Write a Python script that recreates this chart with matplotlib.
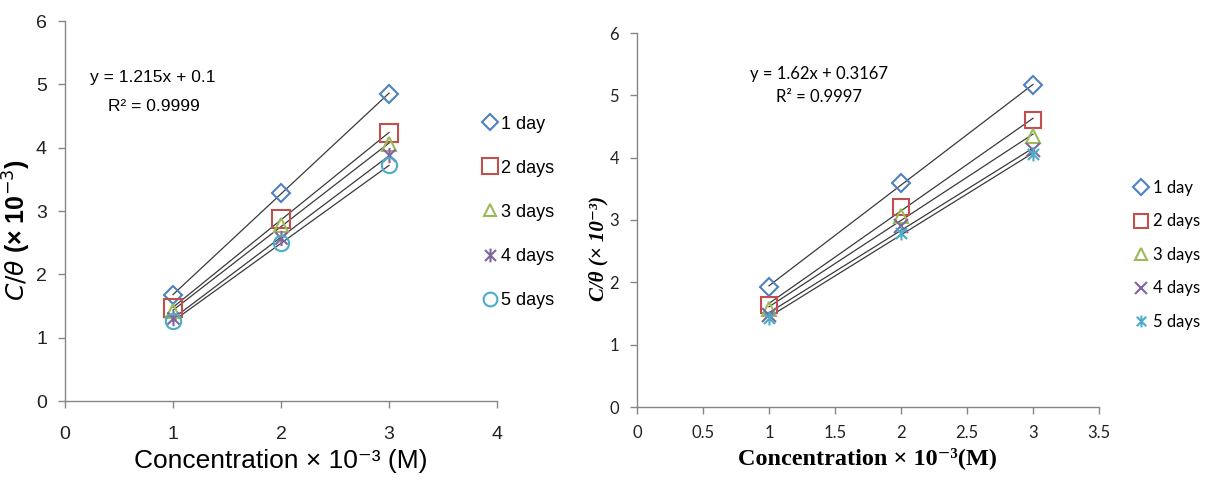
import numpy as np
import matplotlib
matplotlib.use("Agg")
import matplotlib.pyplot as plt
from matplotlib.path import Path

# ---------------- data ----------------
conc = [1, 2, 3]
labels = ["1 day", "2 days", "3 days", "4 days", "5 days"]
colors = ["#4F81BD", "#C0504D", "#9BBB59", "#8064A2", "#4BACC6"]

left_1day = [1.67, 3.29, 4.85]
left_2days = [1.47, 2.88, 4.23]
left_3days = [1.42, 2.78, 4.06]
left_4days = [1.31, 2.57, 3.88]
left_5days = [1.26, 2.49, 3.72]

right_1day = [1.93, 3.59, 5.16]
right_2days = [1.63, 3.21, 4.60]
right_3days = [1.57, 3.07, 4.34]
right_4days = [1.48, 2.90, 4.12]
right_5days = [1.43, 2.79, 4.06]

left_eq = "y = 1.215x + 0.1"
left_r2 = "R² = 0.9999"
right_eq = "y = 1.62x + 0.3167"
right_r2 = "R² = 0.9997"

left_xticks = [0, 1, 2, 3, 4]
right_xticks = [0, 0.5, 1, 1.5, 2, 2.5, 3, 3.5]
yticks = [0, 1, 2, 3, 4, 5, 6]

# ---------------- markers ----------------
star = Path([(-1, -1), (1, 1), (-1, 1), (1, -1), (0, -1.25), (0, 1.25)],
            [Path.MOVETO, Path.LINETO, Path.MOVETO, Path.LINETO, Path.MOVETO, Path.LINETO])
left_markers = ["D", "s", "^", star, "o"]
right_markers = ["D", "s", "^", "x", star]
left_sizes = [9, 13, 10, 11, 11]
right_sizes = [9, 12, 10, 10, 10]

sans = ["Liberation Sans", "DejaVu Sans"]
calib = ["Lato", "DejaVu Sans"]
serif = ["Liberation Serif", "DejaVu Serif"]
grey = "#868686"

fig = plt.figure(figsize=(12.11, 4.91), dpi=100)
axL = fig.add_axes([65 / 1211, 1 - 401 / 491, 432 / 1211, 380 / 491])
axR = fig.add_axes([637 / 1211, 1 - 407 / 491, 462 / 1211, 374 / 491])


def style(ax, xticks, font, fs, xpad):
    for s in ["top", "right"]:
        ax.spines[s].set_visible(False)
    for s in ["left", "bottom"]:
        ax.spines[s].set_color(grey)
        ax.spines[s].set_linewidth(1.0)
    ax.set_yticks(yticks)
    ax.set_xticks(xticks)
    ax.set_xticklabels([f"{t:g}" for t in xticks])
    ax.tick_params(direction="out", length=5, color=grey, width=1, pad=8)
    ax.tick_params(axis="x", pad=xpad)
    for lab in ax.get_xticklabels() + ax.get_yticklabels():
        lab.set_family(font)
        lab.set_fontsize(fs)
        lab.set_color("#222222")


def draw(ax, series, markers, sizes, lw):
    for vals, lab, col, mk, ms in zip(series, labels, colors, markers, sizes):
        ax.plot(conc, vals, linestyle="none", marker=mk, markersize=ms,
                markerfacecolor="none", markeredgecolor=col, markeredgewidth=lw,
                label=lab, zorder=3)
        k, b = np.polyfit(conc, vals, 1)
        xs = np.array([conc[0], conc[-1]])
        ax.plot(xs, k * xs + b, color="#3a3a3a", linewidth=0.9, zorder=2)


# ---------------- left ----------------
left_series = [left_1day, left_2days, left_3days, left_4days, left_5days]
draw(axL, left_series, left_markers, left_sizes, 1.5)
axL.set_xlim(0, 4)
axL.set_ylim(0, 6)
style(axL, left_xticks, sans, 14, 13)
axL.set_ylabel(r"$C/\theta$ (× 10$^{-3}$)", family=sans, fontsize=18, fontweight="bold")
axL.yaxis.set_label_coords(-0.075, 0.45)
axL.set_xlabel("Concentration × 10⁻³ (M)", family=sans, fontsize=19, labelpad=4)
axL.text(0.81, 5.11, left_eq, family=sans, fontsize=12.5, ha="center", va="center")
axL.text(0.82, 4.65, left_r2, family=sans, fontsize=12.5, ha="center", va="center")
legL = axL.legend(loc="upper left", bbox_to_anchor=(3.80, 4.62), bbox_transform=axL.transData,
                  frameon=False, prop={"family": sans, "size": 13}, labelspacing=1.5,
                  handlelength=0.8, handletextpad=0.2, markerscale=0.9, borderaxespad=0)

# ---------------- right ----------------
right_series = [right_1day, right_2days, right_3days, right_4days, right_5days]
draw(axR, right_series, right_markers, right_sizes, 1.5)
axR.set_xlim(0, 3.5)
axR.set_ylim(0, 6)
style(axR, right_xticks, calib, 12, 8)
axR.set_ylabel("C/θ (× 10⁻³)", family=serif, fontsize=15, fontweight="bold", fontstyle="italic")
axR.yaxis.set_label_coords(-0.062, 0.425)
axR.set_xlabel("Concentration × 10⁻³(M)", family=serif, fontweight="bold", fontsize=17.5,
               labelpad=4)
axR.text(1.38, 5.35, right_eq, family=calib, fontsize=12, ha="center", va="center")
axR.text(1.38, 4.98, right_r2, family=calib, fontsize=12, ha="center", va="center")
legR = axR.legend(loc="upper left", bbox_to_anchor=(3.72, 3.75), bbox_transform=axR.transData,
                  frameon=False, prop={"family": calib, "size": 12}, labelspacing=1.05,
                  handlelength=0.8, handletextpad=0.3, markerscale=0.85, borderaxespad=0)

fig.savefig("out.png", dpi=100)
